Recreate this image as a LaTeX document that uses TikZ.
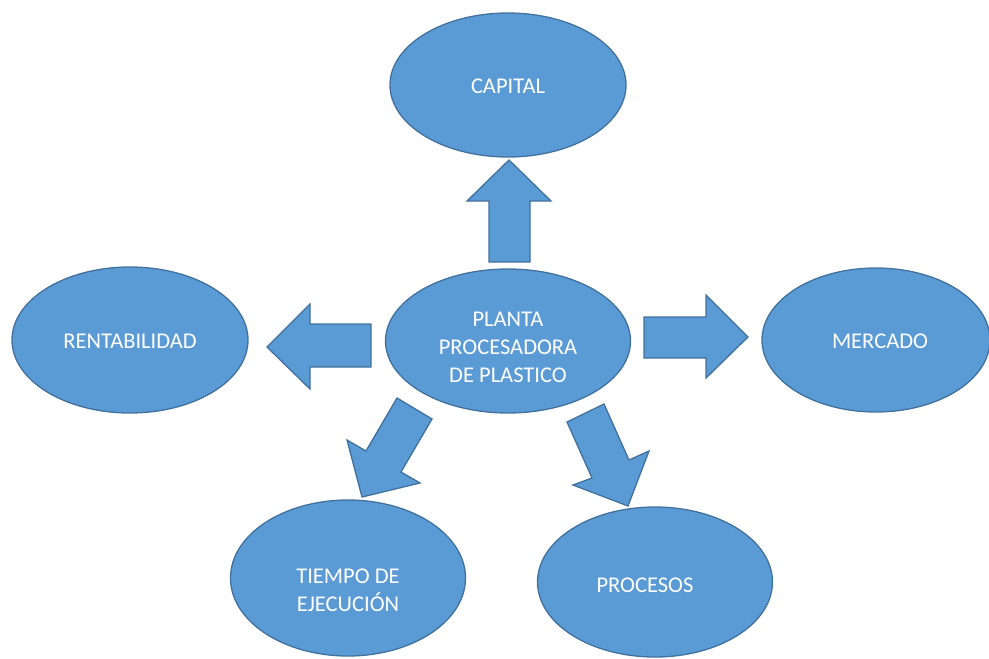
\documentclass[tikz,border=0pt]{standalone}
\usepackage{fontspec}
\setmainfont{Carlito}
\usetikzlibrary{shapes.geometric}
\definecolor{fillblue}{HTML}{5B9BD5}
\definecolor{edgeblue}{HTML}{41719C}
\tikzset{
  oval/.style={ellipse, draw=edgeblue, fill=fillblue, line width=1.3pt, inner sep=0pt},
  ovaltext/.style={text=white, align=center, inner sep=0pt, font=\fontsize{22.5}{28}\selectfont},
  blockarrow/.style={draw=edgeblue, fill=fillblue, line width=1.3pt, line join=miter}
}
\begin{document}
\begin{tikzpicture}[x=1pt,y=-1pt]
\useasboundingbox (0,0) rectangle (989,659);
% ellipses
\node[oval, minimum width=236pt, minimum height=144pt] (cap) at (508,85) {};
\node[oval, minimum width=245pt, minimum height=144pt] (pl) at (508,341) {};
\node[oval, minimum width=236pt, minimum height=146pt] (ren) at (130,340) {};
\node[oval, minimum width=228pt, minimum height=144pt] (mer) at (876,340) {};
\node[oval, minimum width=235pt, minimum height=156pt] (tie) at (348,578) {};
\node[oval, minimum width=235pt, minimum height=150pt] (pro) at (655,582) {};
% texts
\node[ovaltext] (capt) at (508,86) {CAPITAL};
\node[ovaltext] (plt) at (508,347) {PLANTA\\PROCESADORA\\DE PLASTICO};
\node[ovaltext] (rent) at (130,341) {RENTABILIDAD};
\node[ovaltext] (mert) at (880,341) {MERCADO};
\node[ovaltext] (tiet) at (348,590) {TIEMPO DE\\EJECUCIÓN};
\node[ovaltext] (prot) at (645,585) {PROCESOS};
% block arrows
\draw[blockarrow] (489,262) -- (489,201) -- (467,201) -- (509,160) -- (551,201) -- (530,201) -- (530,262) -- cycle;
\draw[blockarrow] (371,324) -- (310,324) -- (310,304) -- (267,347) -- (310,389) -- (310,367) -- (371,367) -- cycle;
\draw[blockarrow] (644,317) -- (706,317) -- (706,295) -- (748,337) -- (706,378) -- (706,358) -- (644,358) -- cycle;
\draw[blockarrow] (397,398) -- (366,451) -- (347,440) -- (362,497) -- (420,483) -- (401,472) -- (432,419) -- cycle;
\draw[blockarrow] (604,404) -- (629,460) -- (649,451) -- (628,506) -- (573,485) -- (592,478) -- (567,422) -- cycle;
\end{tikzpicture}
\end{document}
